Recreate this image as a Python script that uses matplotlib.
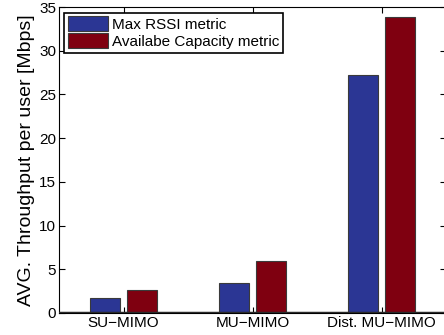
import matplotlib
matplotlib.use("Agg")
import matplotlib.pyplot as plt
import numpy as np

plt.rcParams['font.family'] = ['Liberation Sans', 'DejaVu Sans']

categories = ["SU\u2212MIMO", "MU\u2212MIMO", "Dist. MU\u2212MIMO"]
rssi = [1.7, 3.4, 27.2]
capacity = [2.6, 6.0, 33.8]
series_names = ["Max RSSI metric", "Availabe Capacity metric"]
yticks = [0, 5, 10, 15, 20, 25, 30, 35]

fig = plt.figure(figsize=(4.44, 3.35), dpi=100)
ax = fig.add_axes([59 / 444, 1 - 313 / 335, 387 / 444, 306 / 335])

x = np.arange(1, len(categories) + 1)
w = 0.23
off = 0.142
ax.bar(x - off, rssi, w, color="#2b3694", edgecolor="#3a3a3a", linewidth=0.8,
       label=series_names[0])
ax.bar(x + off, capacity, w, color="#7f0010", edgecolor="#3a3a3a", linewidth=0.8,
       label=series_names[1])
ax.axhline(0, color="#2a2a2a", linewidth=2.5, zorder=5)

ax.set_xlim(0.5, 3.5)
ax.set_ylim(0, 35)
ax.set_xticks(x)
ax.set_xticklabels(categories)
ax.set_yticks(yticks)
ax.tick_params(direction="in", top=True, right=True, length=4, labelsize=11,
               pad=2)
ax.set_ylabel("AVG. Throughput per user [Mbps]", fontsize=14, labelpad=3)

leg = ax.legend(loc="upper left", bbox_to_anchor=(0.013, 0.982), fontsize=11,
                handlelength=2.6, handleheight=1.1, borderpad=0.25,
                labelspacing=0.1, handletextpad=0.3, fancybox=False,
                framealpha=1, borderaxespad=0)
leg.get_frame().set_edgecolor("black")
leg.get_frame().set_linewidth(1.2)

fig.savefig("out.png", dpi=100)
